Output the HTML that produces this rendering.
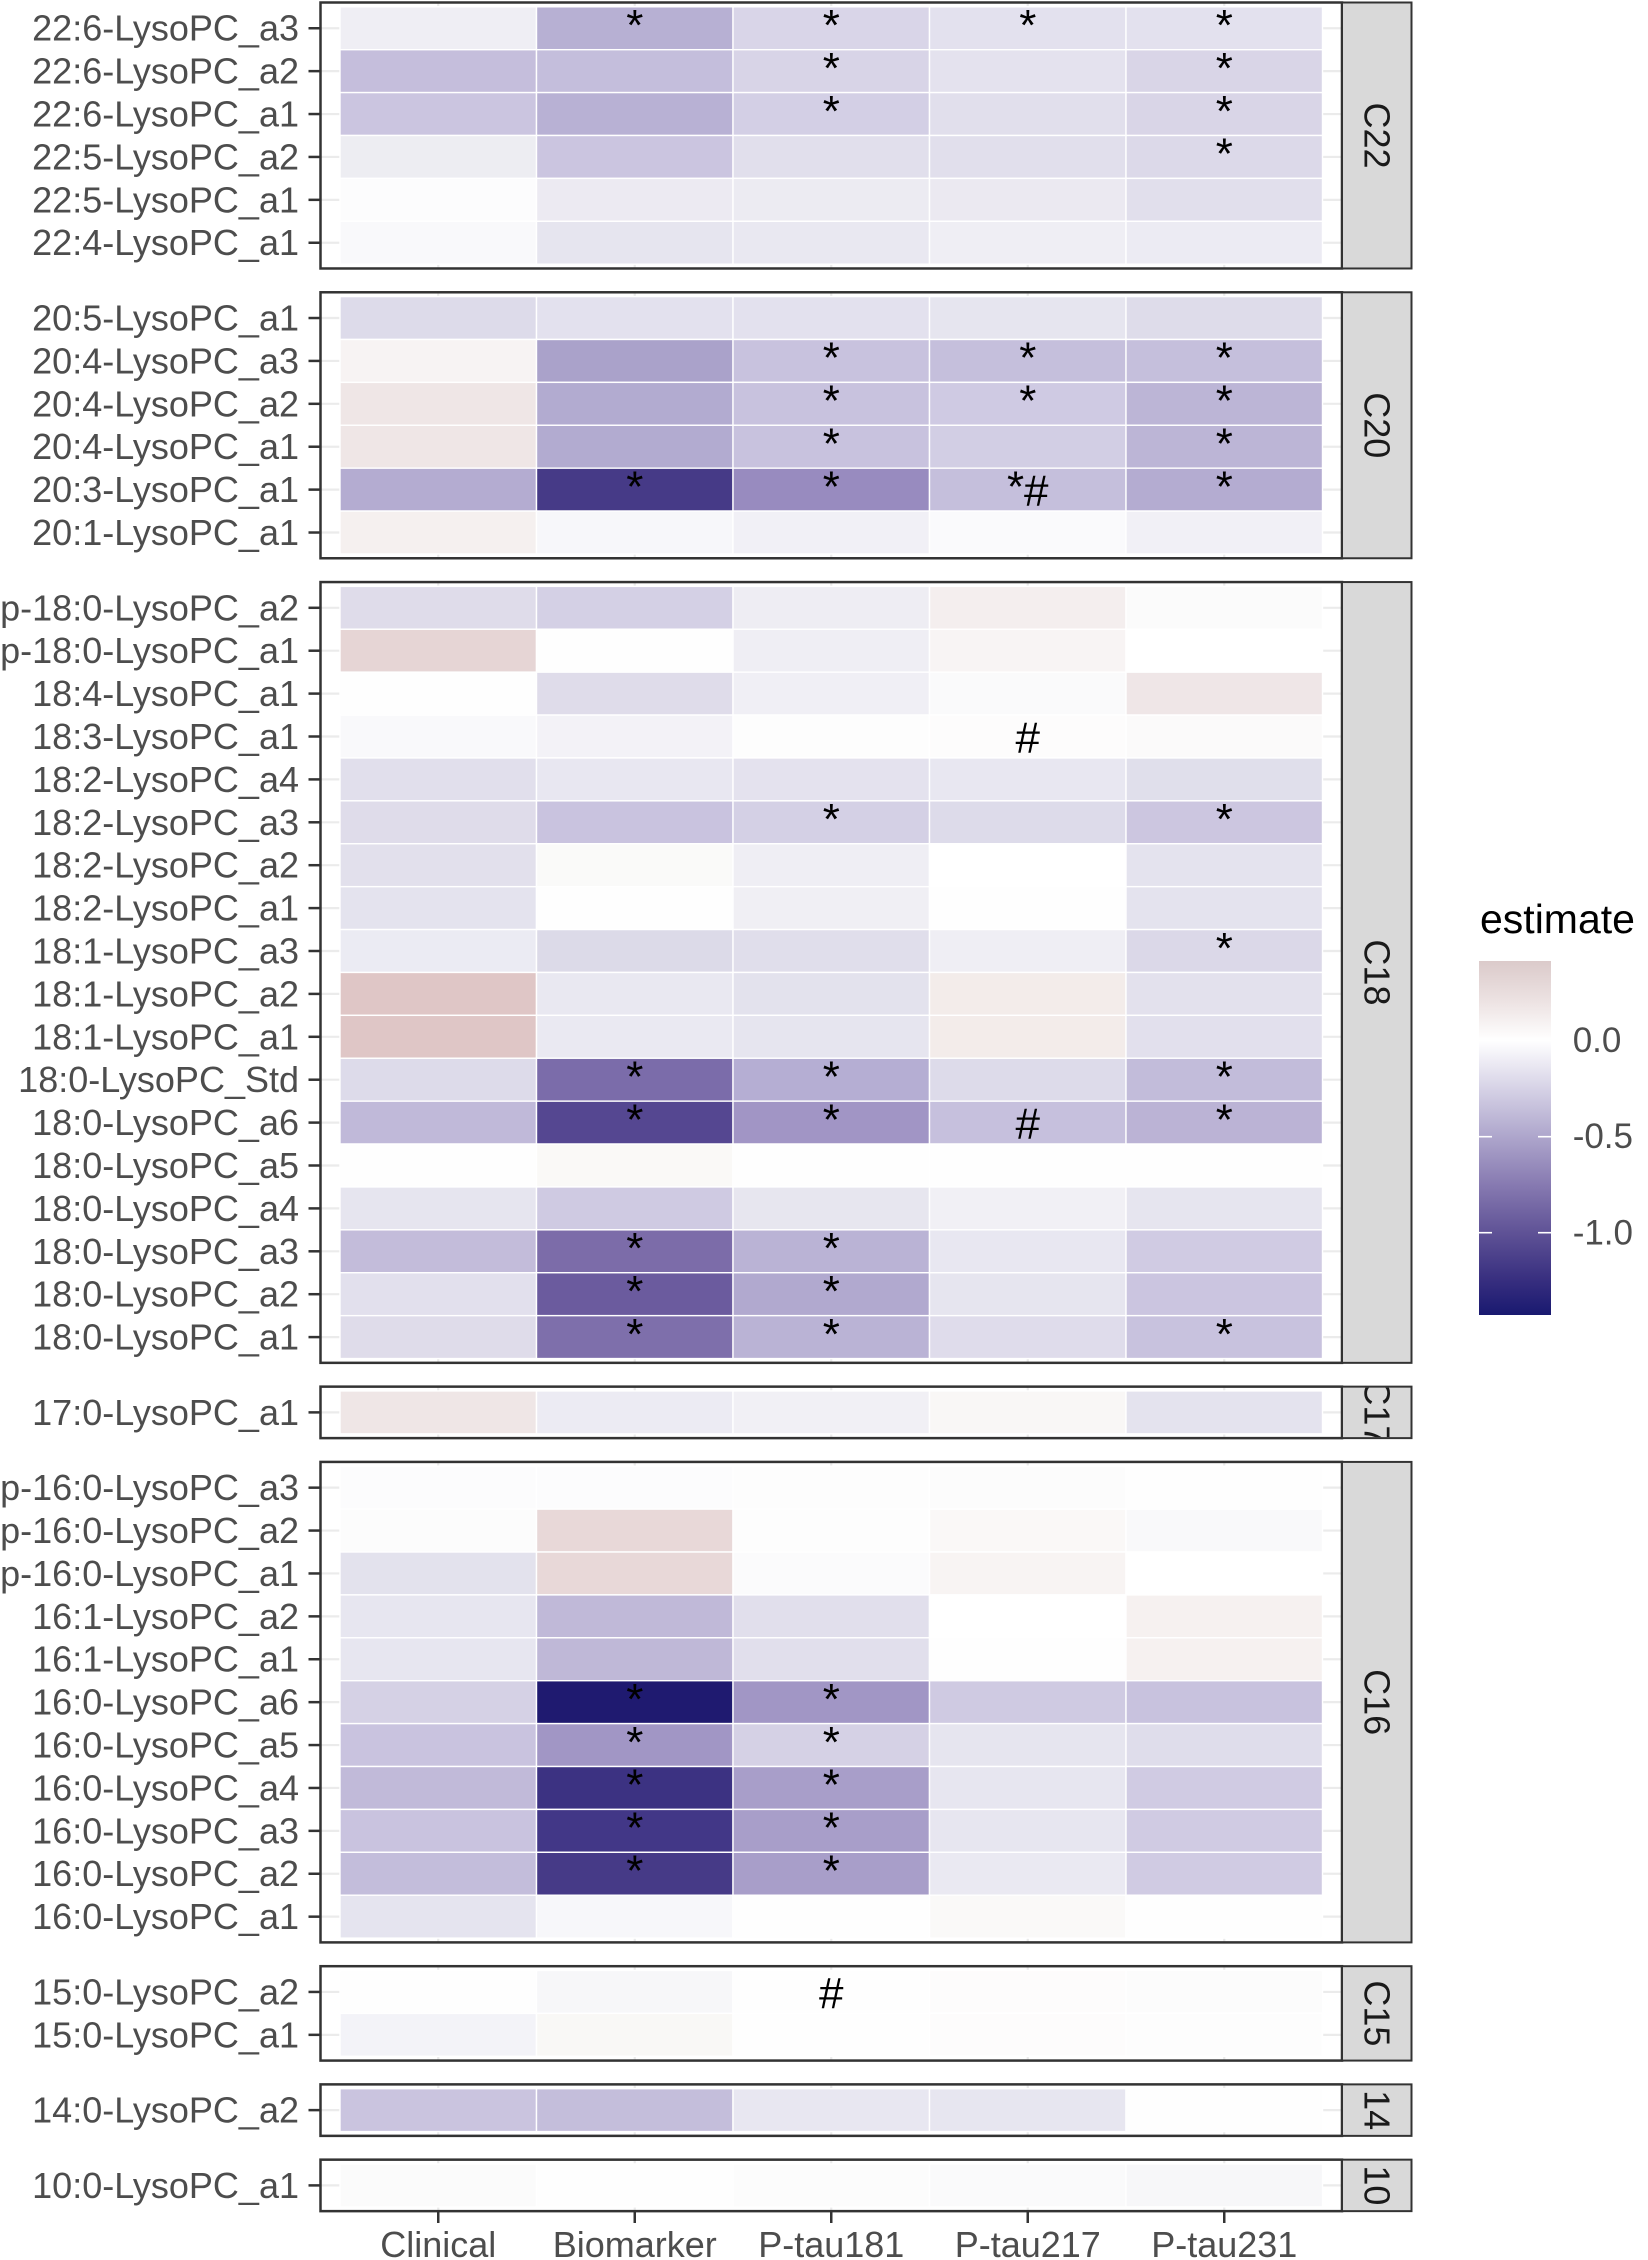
<!DOCTYPE html>
<html><head><meta charset="utf-8"><style>
html,body{margin:0;padding:0;background:#fff}
svg{display:block}
.g{stroke:#ebebeb;stroke-width:2.2}
.tk{stroke:#333;stroke-width:2.5}
.lb{font-family:"Liberation Sans",Arial,sans-serif;font-size:36px;fill:#4d4d4d;text-anchor:end}
.xl{font-family:"Liberation Sans",Arial,sans-serif;font-size:36px;fill:#4d4d4d;text-anchor:middle}
.an{font-family:"Liberation Sans",Arial,sans-serif;font-size:44px;fill:#000;text-anchor:middle}
.st{font-family:"Liberation Sans",Arial,sans-serif;font-size:36px;fill:#1a1a1a;text-anchor:middle}
.c{stroke:#fff;stroke-width:1.4}
.pb{fill:none;stroke:#333;stroke-width:2.5}
.sb{fill:#d9d9d9;stroke:#333;stroke-width:2}
</style></head><body>
<svg width="1648" height="2260" viewBox="0 0 1648 2260" xmlns="http://www.w3.org/2000/svg">
<defs>
<linearGradient id="lg" x1="0" y1="0" x2="0" y2="1">
<stop offset="0" stop-color="#dbcaca"/>
<stop offset="0.117" stop-color="#ede3e3"/>
<stop offset="0.225" stop-color="#ffffff"/>
<stop offset="0.361" stop-color="#d6d2e6"/>
<stop offset="0.496" stop-color="#aea6cc"/>
<stop offset="0.632" stop-color="#877ab1"/>
<stop offset="0.768" stop-color="#5f5296"/>
<stop offset="0.903" stop-color="#372e7f"/>
<stop offset="1" stop-color="#191970"/>
</linearGradient>
<clipPath id="cp4"><rect x="1343" y="1387.6" width="67.5" height="49.5"/></clipPath>
<clipPath id="cp7"><rect x="1343" y="2085.4" width="67.5" height="49.5"/></clipPath>
<clipPath id="cp8"><rect x="1343" y="2160.7" width="67.5" height="49.5"/></clipPath>
</defs>

<!-- ============ PANEL 1 C22 ============ -->
<rect x="320.5" y="2.5" width="1021.5" height="265.98" fill="#fff"/>
<g class="g"><line x1="438.25" x2="438.25" y1="2.5" y2="268.48"/><line x1="634.75" x2="634.75" y1="2.5" y2="268.48"/><line x1="831.25" x2="831.25" y1="2.5" y2="268.48"/><line x1="1027.75" x2="1027.75" y1="2.5" y2="268.48"/><line x1="1224.25" x2="1224.25" y1="2.5" y2="268.48"/></g>
<g transform="translate(0,6.79)"><line class="g" x1="320.5" x2="1342" y1="21.45" y2="21.45"/>
<rect class="c" x="340" width="196.5" height="42.9" fill="#efeef4"/><rect class="c" x="536.5" width="196.5" height="42.9" fill="#b7b0d3"/><rect class="c" x="733" width="196.5" height="42.9" fill="#d9d5e8"/><rect class="c" x="929.5" width="196.5" height="42.9" fill="#e3e1ee"/><rect class="c" x="1126" width="196.5" height="42.9" fill="#e3e1ee"/>
<text class="an" x="634.75" y="33.2">*</text><text class="an" x="831.25" y="33.2">*</text><text class="an" x="1027.75" y="33.2">*</text><text class="an" x="1224.25" y="33.2">*</text>
<line class="tk" x1="308.5" x2="320.5" y1="21.45" y2="21.45"/><text class="lb" x="299" y="33.95">22:6-LysoPC_a3</text></g>
<g transform="translate(0,49.69)"><line class="g" x1="320.5" x2="1342" y1="21.45" y2="21.45"/>
<rect class="c" x="340" width="196.5" height="42.9" fill="#c5bedc"/><rect class="c" x="536.5" width="196.5" height="42.9" fill="#c4bedc"/><rect class="c" x="733" width="196.5" height="42.9" fill="#d8d4e7"/><rect class="c" x="929.5" width="196.5" height="42.9" fill="#e4e2ee"/><rect class="c" x="1126" width="196.5" height="42.9" fill="#d9d5e7"/>
<text class="an" x="831.25" y="33.2">*</text><text class="an" x="1224.25" y="33.2">*</text>
<line class="tk" x1="308.5" x2="320.5" y1="21.45" y2="21.45"/><text class="lb" x="299" y="33.95">22:6-LysoPC_a2</text></g>
<g transform="translate(0,92.59)"><line class="g" x1="320.5" x2="1342" y1="21.45" y2="21.45"/>
<rect class="c" x="340" width="196.5" height="42.9" fill="#cbc5e0"/><rect class="c" x="536.5" width="196.5" height="42.9" fill="#b8b1d4"/><rect class="c" x="733" width="196.5" height="42.9" fill="#d3cfe5"/><rect class="c" x="929.5" width="196.5" height="42.9" fill="#e1dfec"/><rect class="c" x="1126" width="196.5" height="42.9" fill="#d9d5e7"/>
<text class="an" x="831.25" y="33.2">*</text><text class="an" x="1224.25" y="33.2">*</text>
<line class="tk" x1="308.5" x2="320.5" y1="21.45" y2="21.45"/><text class="lb" x="299" y="33.95">22:6-LysoPC_a1</text></g>
<g transform="translate(0,135.49)"><line class="g" x1="320.5" x2="1342" y1="21.45" y2="21.45"/>
<rect class="c" x="340" width="196.5" height="42.9" fill="#ededf2"/><rect class="c" x="536.5" width="196.5" height="42.9" fill="#cbc5e0"/><rect class="c" x="733" width="196.5" height="42.9" fill="#e1dfec"/><rect class="c" x="929.5" width="196.5" height="42.9" fill="#e1dfec"/><rect class="c" x="1126" width="196.5" height="42.9" fill="#dcd9e9"/>
<text class="an" x="1224.25" y="33.2">*</text>
<line class="tk" x1="308.5" x2="320.5" y1="21.45" y2="21.45"/><text class="lb" x="299" y="33.95">22:5-LysoPC_a2</text></g>
<g transform="translate(0,178.39)"><line class="g" x1="320.5" x2="1342" y1="21.45" y2="21.45"/>
<rect class="c" x="340" width="196.5" height="42.9" fill="#fcfcfd"/><rect class="c" x="536.5" width="196.5" height="42.9" fill="#eceaf2"/><rect class="c" x="733" width="196.5" height="42.9" fill="#ecebf2"/><rect class="c" x="929.5" width="196.5" height="42.9" fill="#ebe9f1"/><rect class="c" x="1126" width="196.5" height="42.9" fill="#e1dfec"/>
<line class="tk" x1="308.5" x2="320.5" y1="21.45" y2="21.45"/><text class="lb" x="299" y="33.95">22:5-LysoPC_a1</text></g>
<g transform="translate(0,221.29)"><line class="g" x1="320.5" x2="1342" y1="21.45" y2="21.45"/>
<rect class="c" x="340" width="196.5" height="42.9" fill="#f9f9fb"/><rect class="c" x="536.5" width="196.5" height="42.9" fill="#e6e5ef"/><rect class="c" x="733" width="196.5" height="42.9" fill="#e9e8f1"/><rect class="c" x="929.5" width="196.5" height="42.9" fill="#efeef4"/><rect class="c" x="1126" width="196.5" height="42.9" fill="#ecebf3"/>
<line class="tk" x1="308.5" x2="320.5" y1="21.45" y2="21.45"/><text class="lb" x="299" y="33.95">22:4-LysoPC_a1</text></g>
<rect class="pb" x="320.5" y="2.5" width="1021.5" height="265.98"/>
<rect class="sb" x="1342" y="2.5" width="69.5" height="265.98"/>
<text class="st" transform="translate(1376.75,135.49) rotate(90)" y="12.5">C22</text>

<!-- ============ PANEL 2 C20 ============ -->
<rect x="320.5" y="292.28" width="1021.5" height="265.98" fill="#fff"/>
<g class="g"><line x1="438.25" x2="438.25" y1="292.28" y2="558.26"/><line x1="634.75" x2="634.75" y1="292.28" y2="558.26"/><line x1="831.25" x2="831.25" y1="292.28" y2="558.26"/><line x1="1027.75" x2="1027.75" y1="292.28" y2="558.26"/><line x1="1224.25" x2="1224.25" y1="292.28" y2="558.26"/></g>
<g transform="translate(0,296.57)"><line class="g" x1="320.5" x2="1342" y1="21.45" y2="21.45"/>
<rect class="c" x="340" width="196.5" height="42.9" fill="#dddbea"/><rect class="c" x="536.5" width="196.5" height="42.9" fill="#e3e1ee"/><rect class="c" x="733" width="196.5" height="42.9" fill="#e3e1ee"/><rect class="c" x="929.5" width="196.5" height="42.9" fill="#e6e5ef"/><rect class="c" x="1126" width="196.5" height="42.9" fill="#dedcea"/>
<line class="tk" x1="308.5" x2="320.5" y1="21.45" y2="21.45"/><text class="lb" x="299" y="33.95">20:5-LysoPC_a1</text></g>
<g transform="translate(0,339.47)"><line class="g" x1="320.5" x2="1342" y1="21.45" y2="21.45"/>
<rect class="c" x="340" width="196.5" height="42.9" fill="#f7f3f3"/><rect class="c" x="536.5" width="196.5" height="42.9" fill="#aaa2ca"/><rect class="c" x="733" width="196.5" height="42.9" fill="#c8c2de"/><rect class="c" x="929.5" width="196.5" height="42.9" fill="#c5bfdc"/><rect class="c" x="1126" width="196.5" height="42.9" fill="#c5bfdc"/>
<text class="an" x="831.25" y="33.2">*</text><text class="an" x="1027.75" y="33.2">*</text><text class="an" x="1224.25" y="33.2">*</text>
<line class="tk" x1="308.5" x2="320.5" y1="21.45" y2="21.45"/><text class="lb" x="299" y="33.95">20:4-LysoPC_a3</text></g>
<g transform="translate(0,382.37)"><line class="g" x1="320.5" x2="1342" y1="21.45" y2="21.45"/>
<rect class="c" x="340" width="196.5" height="42.9" fill="#efe6e6"/><rect class="c" x="536.5" width="196.5" height="42.9" fill="#b2abd0"/><rect class="c" x="733" width="196.5" height="42.9" fill="#c8c2de"/><rect class="c" x="929.5" width="196.5" height="42.9" fill="#cfcae3"/><rect class="c" x="1126" width="196.5" height="42.9" fill="#bcb5d6"/>
<text class="an" x="831.25" y="33.2">*</text><text class="an" x="1027.75" y="33.2">*</text><text class="an" x="1224.25" y="33.2">*</text>
<line class="tk" x1="308.5" x2="320.5" y1="21.45" y2="21.45"/><text class="lb" x="299" y="33.95">20:4-LysoPC_a2</text></g>
<g transform="translate(0,425.27)"><line class="g" x1="320.5" x2="1342" y1="21.45" y2="21.45"/>
<rect class="c" x="340" width="196.5" height="42.9" fill="#efe6e6"/><rect class="c" x="536.5" width="196.5" height="42.9" fill="#b2abd0"/><rect class="c" x="733" width="196.5" height="42.9" fill="#c8c2de"/><rect class="c" x="929.5" width="196.5" height="42.9" fill="#d2cee4"/><rect class="c" x="1126" width="196.5" height="42.9" fill="#bcb5d6"/>
<text class="an" x="831.25" y="33.2">*</text><text class="an" x="1224.25" y="33.2">*</text>
<line class="tk" x1="308.5" x2="320.5" y1="21.45" y2="21.45"/><text class="lb" x="299" y="33.95">20:4-LysoPC_a1</text></g>
<g transform="translate(0,468.17)"><line class="g" x1="320.5" x2="1342" y1="21.45" y2="21.45"/>
<rect class="c" x="340" width="196.5" height="42.9" fill="#b4acd1"/><rect class="c" x="536.5" width="196.5" height="42.9" fill="#463a87"/><rect class="c" x="733" width="196.5" height="42.9" fill="#988bbf"/><rect class="c" x="929.5" width="196.5" height="42.9" fill="#c5bfdc"/><rect class="c" x="1126" width="196.5" height="42.9" fill="#b4acd1"/>
<text class="an" x="634.75" y="33.2">*</text><text class="an" x="831.25" y="33.2">*</text><text class="an" x="1015.5" y="33.2">*</text><text class="an" x="1036.3" y="37.45">#</text><text class="an" x="1224.25" y="33.2">*</text>
<line class="tk" x1="308.5" x2="320.5" y1="21.45" y2="21.45"/><text class="lb" x="299" y="33.95">20:3-LysoPC_a1</text></g>
<g transform="translate(0,511.07)"><line class="g" x1="320.5" x2="1342" y1="21.45" y2="21.45"/>
<rect class="c" x="340" width="196.5" height="42.9" fill="#f5f0ef"/><rect class="c" x="536.5" width="196.5" height="42.9" fill="#f7f7fa"/><rect class="c" x="733" width="196.5" height="42.9" fill="#f1f0f6"/><rect class="c" x="929.5" width="196.5" height="42.9" fill="#fafafc"/><rect class="c" x="1126" width="196.5" height="42.9" fill="#f1f0f6"/>
<line class="tk" x1="308.5" x2="320.5" y1="21.45" y2="21.45"/><text class="lb" x="299" y="33.95">20:1-LysoPC_a1</text></g>
<rect class="pb" x="320.5" y="292.28" width="1021.5" height="265.98"/>
<rect class="sb" x="1342" y="292.28" width="69.5" height="265.98"/>
<text class="st" transform="translate(1376.75,425.27) rotate(90)" y="12.5">C20</text>

<!-- ============ PANEL 3 C18 ============ -->
<rect x="320.5" y="582.06" width="1021.5" height="780.78" fill="#fff"/>
<g class="g"><line x1="438.25" x2="438.25" y1="582.06" y2="1362.84"/><line x1="634.75" x2="634.75" y1="582.06" y2="1362.84"/><line x1="831.25" x2="831.25" y1="582.06" y2="1362.84"/><line x1="1027.75" x2="1027.75" y1="582.06" y2="1362.84"/><line x1="1224.25" x2="1224.25" y1="582.06" y2="1362.84"/></g>
<g transform="translate(0,586.35)"><line class="g" x1="320.5" x2="1342" y1="21.45" y2="21.45"/>
<rect class="c" x="340" width="196.5" height="42.9" fill="#dfdcea"/><rect class="c" x="536.5" width="196.5" height="42.9" fill="#d4d0e5"/><rect class="c" x="733" width="196.5" height="42.9" fill="#eeedf3"/><rect class="c" x="929.5" width="196.5" height="42.9" fill="#f4eeee"/><rect class="c" x="1126" width="196.5" height="42.9" fill="#fbfbfb"/>
<line class="tk" x1="308.5" x2="320.5" y1="21.45" y2="21.45"/><text class="lb" x="299" y="33.95">p-18:0-LysoPC_a2</text></g>
<g transform="translate(0,629.25)"><line class="g" x1="320.5" x2="1342" y1="21.45" y2="21.45"/>
<rect class="c" x="340" width="196.5" height="42.9" fill="#e6d5d5"/><rect class="c" x="536.5" width="196.5" height="42.9" fill="#fefefe"/><rect class="c" x="733" width="196.5" height="42.9" fill="#efeef4"/><rect class="c" x="929.5" width="196.5" height="42.9" fill="#f8f4f4"/><rect class="c" x="1126" width="196.5" height="42.9" fill="#ffffff"/>
<line class="tk" x1="308.5" x2="320.5" y1="21.45" y2="21.45"/><text class="lb" x="299" y="33.95">p-18:0-LysoPC_a1</text></g>
<g transform="translate(0,672.15)"><line class="g" x1="320.5" x2="1342" y1="21.45" y2="21.45"/>
<rect class="c" x="340" width="196.5" height="42.9" fill="#fefefe"/><rect class="c" x="536.5" width="196.5" height="42.9" fill="#dfdcea"/><rect class="c" x="733" width="196.5" height="42.9" fill="#f0eff5"/><rect class="c" x="929.5" width="196.5" height="42.9" fill="#fafafb"/><rect class="c" x="1126" width="196.5" height="42.9" fill="#efe6e7"/>
<line class="tk" x1="308.5" x2="320.5" y1="21.45" y2="21.45"/><text class="lb" x="299" y="33.95">18:4-LysoPC_a1</text></g>
<g transform="translate(0,715.05)"><line class="g" x1="320.5" x2="1342" y1="21.45" y2="21.45"/>
<rect class="c" x="340" width="196.5" height="42.9" fill="#f9f9fb"/><rect class="c" x="536.5" width="196.5" height="42.9" fill="#f3f2f7"/><rect class="c" x="733" width="196.5" height="42.9" fill="#fdfdfd"/><rect class="c" x="929.5" width="196.5" height="42.9" fill="#fdfcfc"/><rect class="c" x="1126" width="196.5" height="42.9" fill="#fbfafa"/>
<text class="an" x="1027.75" y="37.45">#</text>
<line class="tk" x1="308.5" x2="320.5" y1="21.45" y2="21.45"/><text class="lb" x="299" y="33.95">18:3-LysoPC_a1</text></g>
<g transform="translate(0,757.95)"><line class="g" x1="320.5" x2="1342" y1="21.45" y2="21.45"/>
<rect class="c" x="340" width="196.5" height="42.9" fill="#e1dfec"/><rect class="c" x="536.5" width="196.5" height="42.9" fill="#e8e7f1"/><rect class="c" x="733" width="196.5" height="42.9" fill="#e4e2ee"/><rect class="c" x="929.5" width="196.5" height="42.9" fill="#e8e7f1"/><rect class="c" x="1126" width="196.5" height="42.9" fill="#e0dfeb"/>
<line class="tk" x1="308.5" x2="320.5" y1="21.45" y2="21.45"/><text class="lb" x="299" y="33.95">18:2-LysoPC_a4</text></g>
<g transform="translate(0,800.85)"><line class="g" x1="320.5" x2="1342" y1="21.45" y2="21.45"/>
<rect class="c" x="340" width="196.5" height="42.9" fill="#dfdcea"/><rect class="c" x="536.5" width="196.5" height="42.9" fill="#c9c3df"/><rect class="c" x="733" width="196.5" height="42.9" fill="#d4d0e5"/><rect class="c" x="929.5" width="196.5" height="42.9" fill="#dddbea"/><rect class="c" x="1126" width="196.5" height="42.9" fill="#ccc6e0"/>
<text class="an" x="831.25" y="33.2">*</text><text class="an" x="1224.25" y="33.2">*</text>
<line class="tk" x1="308.5" x2="320.5" y1="21.45" y2="21.45"/><text class="lb" x="299" y="33.95">18:2-LysoPC_a3</text></g>
<g transform="translate(0,843.75)"><line class="g" x1="320.5" x2="1342" y1="21.45" y2="21.45"/>
<rect class="c" x="340" width="196.5" height="42.9" fill="#e2e0ec"/><rect class="c" x="536.5" width="196.5" height="42.9" fill="#fafaf9"/><rect class="c" x="733" width="196.5" height="42.9" fill="#efeef4"/><rect class="c" x="929.5" width="196.5" height="42.9" fill="#ffffff"/><rect class="c" x="1126" width="196.5" height="42.9" fill="#e4e3ee"/>
<line class="tk" x1="308.5" x2="320.5" y1="21.45" y2="21.45"/><text class="lb" x="299" y="33.95">18:2-LysoPC_a2</text></g>
<g transform="translate(0,886.65)"><line class="g" x1="320.5" x2="1342" y1="21.45" y2="21.45"/>
<rect class="c" x="340" width="196.5" height="42.9" fill="#e4e3ee"/><rect class="c" x="536.5" width="196.5" height="42.9" fill="#fefefe"/><rect class="c" x="733" width="196.5" height="42.9" fill="#f0eff4"/><rect class="c" x="929.5" width="196.5" height="42.9" fill="#fefefe"/><rect class="c" x="1126" width="196.5" height="42.9" fill="#e4e3ee"/>
<line class="tk" x1="308.5" x2="320.5" y1="21.45" y2="21.45"/><text class="lb" x="299" y="33.95">18:2-LysoPC_a1</text></g>
<g transform="translate(0,929.55)"><line class="g" x1="320.5" x2="1342" y1="21.45" y2="21.45"/>
<rect class="c" x="340" width="196.5" height="42.9" fill="#ebebf3"/><rect class="c" x="536.5" width="196.5" height="42.9" fill="#dcdae8"/><rect class="c" x="733" width="196.5" height="42.9" fill="#e0deeb"/><rect class="c" x="929.5" width="196.5" height="42.9" fill="#efeef4"/><rect class="c" x="1126" width="196.5" height="42.9" fill="#dbd8e8"/>
<text class="an" x="1224.25" y="33.2">*</text>
<line class="tk" x1="308.5" x2="320.5" y1="21.45" y2="21.45"/><text class="lb" x="299" y="33.95">18:1-LysoPC_a3</text></g>
<g transform="translate(0,972.45)"><line class="g" x1="320.5" x2="1342" y1="21.45" y2="21.45"/>
<rect class="c" x="340" width="196.5" height="42.9" fill="#dfc6c6"/><rect class="c" x="536.5" width="196.5" height="42.9" fill="#e9e8f1"/><rect class="c" x="733" width="196.5" height="42.9" fill="#e3e2ed"/><rect class="c" x="929.5" width="196.5" height="42.9" fill="#f3ecea"/><rect class="c" x="1126" width="196.5" height="42.9" fill="#e3e1ed"/>
<line class="tk" x1="308.5" x2="320.5" y1="21.45" y2="21.45"/><text class="lb" x="299" y="33.95">18:1-LysoPC_a2</text></g>
<g transform="translate(0,1015.35)"><line class="g" x1="320.5" x2="1342" y1="21.45" y2="21.45"/>
<rect class="c" x="340" width="196.5" height="42.9" fill="#dfc6c6"/><rect class="c" x="536.5" width="196.5" height="42.9" fill="#eae9f2"/><rect class="c" x="733" width="196.5" height="42.9" fill="#e6e5ef"/><rect class="c" x="929.5" width="196.5" height="42.9" fill="#f3ecea"/><rect class="c" x="1126" width="196.5" height="42.9" fill="#e2e0ed"/>
<line class="tk" x1="308.5" x2="320.5" y1="21.45" y2="21.45"/><text class="lb" x="299" y="33.95">18:1-LysoPC_a1</text></g>
<g transform="translate(0,1058.25)"><line class="g" x1="320.5" x2="1342" y1="21.45" y2="21.45"/>
<rect class="c" x="340" width="196.5" height="42.9" fill="#dddbea"/><rect class="c" x="536.5" width="196.5" height="42.9" fill="#7b6caa"/><rect class="c" x="733" width="196.5" height="42.9" fill="#b5aed3"/><rect class="c" x="929.5" width="196.5" height="42.9" fill="#dddbea"/><rect class="c" x="1126" width="196.5" height="42.9" fill="#c2bcda"/>
<text class="an" x="634.75" y="33.2">*</text><text class="an" x="831.25" y="33.2">*</text><text class="an" x="1224.25" y="33.2">*</text>
<line class="tk" x1="308.5" x2="320.5" y1="21.45" y2="21.45"/><text class="lb" x="299" y="33.95">18:0-LysoPC_Std</text></g>
<g transform="translate(0,1101.15)"><line class="g" x1="320.5" x2="1342" y1="21.45" y2="21.45"/>
<rect class="c" x="340" width="196.5" height="42.9" fill="#c0b9d9"/><rect class="c" x="536.5" width="196.5" height="42.9" fill="#554791"/><rect class="c" x="733" width="196.5" height="42.9" fill="#a195c5"/><rect class="c" x="929.5" width="196.5" height="42.9" fill="#c6c0dd"/><rect class="c" x="1126" width="196.5" height="42.9" fill="#bbb3d5"/>
<text class="an" x="634.75" y="33.2">*</text><text class="an" x="831.25" y="33.2">*</text><text class="an" x="1027.75" y="37.45">#</text><text class="an" x="1224.25" y="33.2">*</text>
<line class="tk" x1="308.5" x2="320.5" y1="21.45" y2="21.45"/><text class="lb" x="299" y="33.95">18:0-LysoPC_a6</text></g>
<g transform="translate(0,1144.05)"><line class="g" x1="320.5" x2="1342" y1="21.45" y2="21.45"/>
<rect class="c" x="340" width="196.5" height="42.9" fill="#fefefe"/><rect class="c" x="536.5" width="196.5" height="42.9" fill="#faf9f7"/><rect class="c" x="733" width="196.5" height="42.9" fill="#fefefe"/><rect class="c" x="929.5" width="196.5" height="42.9" fill="#fefefe"/><rect class="c" x="1126" width="196.5" height="42.9" fill="#fefefe"/>
<line class="tk" x1="308.5" x2="320.5" y1="21.45" y2="21.45"/><text class="lb" x="299" y="33.95">18:0-LysoPC_a5</text></g>
<g transform="translate(0,1186.95)"><line class="g" x1="320.5" x2="1342" y1="21.45" y2="21.45"/>
<rect class="c" x="340" width="196.5" height="42.9" fill="#e6e5ef"/><rect class="c" x="536.5" width="196.5" height="42.9" fill="#cfcae2"/><rect class="c" x="733" width="196.5" height="42.9" fill="#e7e6ef"/><rect class="c" x="929.5" width="196.5" height="42.9" fill="#f1f0f5"/><rect class="c" x="1126" width="196.5" height="42.9" fill="#e6e5ef"/>
<line class="tk" x1="308.5" x2="320.5" y1="21.45" y2="21.45"/><text class="lb" x="299" y="33.95">18:0-LysoPC_a4</text></g>
<g transform="translate(0,1229.85)"><line class="g" x1="320.5" x2="1342" y1="21.45" y2="21.45"/>
<rect class="c" x="340" width="196.5" height="42.9" fill="#c3bcda"/><rect class="c" x="536.5" width="196.5" height="42.9" fill="#7c6ca9"/><rect class="c" x="733" width="196.5" height="42.9" fill="#bab3d5"/><rect class="c" x="929.5" width="196.5" height="42.9" fill="#e8e7f1"/><rect class="c" x="1126" width="196.5" height="42.9" fill="#d0cbe3"/>
<text class="an" x="634.75" y="33.2">*</text><text class="an" x="831.25" y="33.2">*</text>
<line class="tk" x1="308.5" x2="320.5" y1="21.45" y2="21.45"/><text class="lb" x="299" y="33.95">18:0-LysoPC_a3</text></g>
<g transform="translate(0,1272.75)"><line class="g" x1="320.5" x2="1342" y1="21.45" y2="21.45"/>
<rect class="c" x="340" width="196.5" height="42.9" fill="#e2e0ed"/><rect class="c" x="536.5" width="196.5" height="42.9" fill="#6b5b9e"/><rect class="c" x="733" width="196.5" height="42.9" fill="#b1a9cf"/><rect class="c" x="929.5" width="196.5" height="42.9" fill="#e6e5ef"/><rect class="c" x="1126" width="196.5" height="42.9" fill="#cbc5e0"/>
<text class="an" x="634.75" y="33.2">*</text><text class="an" x="831.25" y="33.2">*</text>
<line class="tk" x1="308.5" x2="320.5" y1="21.45" y2="21.45"/><text class="lb" x="299" y="33.95">18:0-LysoPC_a2</text></g>
<g transform="translate(0,1315.65)"><line class="g" x1="320.5" x2="1342" y1="21.45" y2="21.45"/>
<rect class="c" x="340" width="196.5" height="42.9" fill="#dfdcea"/><rect class="c" x="536.5" width="196.5" height="42.9" fill="#7e6fab"/><rect class="c" x="733" width="196.5" height="42.9" fill="#bab3d5"/><rect class="c" x="929.5" width="196.5" height="42.9" fill="#dfdceb"/><rect class="c" x="1126" width="196.5" height="42.9" fill="#c8c2de"/>
<text class="an" x="634.75" y="33.2">*</text><text class="an" x="831.25" y="33.2">*</text><text class="an" x="1224.25" y="33.2">*</text>
<line class="tk" x1="308.5" x2="320.5" y1="21.45" y2="21.45"/><text class="lb" x="299" y="33.95">18:0-LysoPC_a1</text></g>
<rect class="pb" x="320.5" y="582.06" width="1021.5" height="780.78"/>
<rect class="sb" x="1342" y="582.06" width="69.5" height="780.78"/>
<text class="st" transform="translate(1376.75,972.45) rotate(90)" y="12.5">C18</text>

<!-- ============ PANEL 4 C17 ============ -->
<rect x="320.5" y="1386.64" width="1021.5" height="51.48" fill="#fff"/>
<g class="g"><line x1="438.25" x2="438.25" y1="1386.64" y2="1438.12"/><line x1="634.75" x2="634.75" y1="1386.64" y2="1438.12"/><line x1="831.25" x2="831.25" y1="1386.64" y2="1438.12"/><line x1="1027.75" x2="1027.75" y1="1386.64" y2="1438.12"/><line x1="1224.25" x2="1224.25" y1="1386.64" y2="1438.12"/></g>
<g transform="translate(0,1390.93)"><line class="g" x1="320.5" x2="1342" y1="21.45" y2="21.45"/>
<rect class="c" x="340" width="196.5" height="42.9" fill="#efe6e6"/><rect class="c" x="536.5" width="196.5" height="42.9" fill="#ecebf3"/><rect class="c" x="733" width="196.5" height="42.9" fill="#f1f0f5"/><rect class="c" x="929.5" width="196.5" height="42.9" fill="#f9f7f6"/><rect class="c" x="1126" width="196.5" height="42.9" fill="#e4e3ee"/>
<line class="tk" x1="308.5" x2="320.5" y1="21.45" y2="21.45"/><text class="lb" x="299" y="33.95">17:0-LysoPC_a1</text></g>
<rect class="pb" x="320.5" y="1386.64" width="1021.5" height="51.48"/>
<rect class="sb" x="1342" y="1386.64" width="69.5" height="51.48"/>
<g clip-path="url(#cp4)"><text class="st" transform="translate(1376.75,1412.38) rotate(90)" y="12.5">C17</text></g>

<!-- ============ PANEL 5 C16 ============ -->
<rect x="320.5" y="1461.92" width="1021.5" height="480.48" fill="#fff"/>
<g class="g"><line x1="438.25" x2="438.25" y1="1461.92" y2="1942.4"/><line x1="634.75" x2="634.75" y1="1461.92" y2="1942.4"/><line x1="831.25" x2="831.25" y1="1461.92" y2="1942.4"/><line x1="1027.75" x2="1027.75" y1="1461.92" y2="1942.4"/><line x1="1224.25" x2="1224.25" y1="1461.92" y2="1942.4"/></g>
<g transform="translate(0,1466.21)"><line class="g" x1="320.5" x2="1342" y1="21.45" y2="21.45"/>
<rect class="c" x="340" width="196.5" height="42.9" fill="#fcfcfd"/><rect class="c" x="536.5" width="196.5" height="42.9" fill="#fcfcfd"/><rect class="c" x="733" width="196.5" height="42.9" fill="#fdfdfd"/><rect class="c" x="929.5" width="196.5" height="42.9" fill="#fcfcfc"/><rect class="c" x="1126" width="196.5" height="42.9" fill="#fefefe"/>
<line class="tk" x1="308.5" x2="320.5" y1="21.45" y2="21.45"/><text class="lb" x="299" y="33.95">p-16:0-LysoPC_a3</text></g>
<g transform="translate(0,1509.11)"><line class="g" x1="320.5" x2="1342" y1="21.45" y2="21.45"/>
<rect class="c" x="340" width="196.5" height="42.9" fill="#fcfcfc"/><rect class="c" x="536.5" width="196.5" height="42.9" fill="#e8d8d8"/><rect class="c" x="733" width="196.5" height="42.9" fill="#fdfdfd"/><rect class="c" x="929.5" width="196.5" height="42.9" fill="#faf8f7"/><rect class="c" x="1126" width="196.5" height="42.9" fill="#f9f9fa"/>
<line class="tk" x1="308.5" x2="320.5" y1="21.45" y2="21.45"/><text class="lb" x="299" y="33.95">p-16:0-LysoPC_a2</text></g>
<g transform="translate(0,1552.01)"><line class="g" x1="320.5" x2="1342" y1="21.45" y2="21.45"/>
<rect class="c" x="340" width="196.5" height="42.9" fill="#e3e2ed"/><rect class="c" x="536.5" width="196.5" height="42.9" fill="#e8d8d8"/><rect class="c" x="733" width="196.5" height="42.9" fill="#fbfbfc"/><rect class="c" x="929.5" width="196.5" height="42.9" fill="#f8f4f3"/><rect class="c" x="1126" width="196.5" height="42.9" fill="#ffffff"/>
<line class="tk" x1="308.5" x2="320.5" y1="21.45" y2="21.45"/><text class="lb" x="299" y="33.95">p-16:0-LysoPC_a1</text></g>
<g transform="translate(0,1594.91)"><line class="g" x1="320.5" x2="1342" y1="21.45" y2="21.45"/>
<rect class="c" x="340" width="196.5" height="42.9" fill="#e7e6f0"/><rect class="c" x="536.5" width="196.5" height="42.9" fill="#c0b9d8"/><rect class="c" x="733" width="196.5" height="42.9" fill="#e1dfec"/><rect class="c" x="929.5" width="196.5" height="42.9" fill="#ffffff"/><rect class="c" x="1126" width="196.5" height="42.9" fill="#f6f1f0"/>
<line class="tk" x1="308.5" x2="320.5" y1="21.45" y2="21.45"/><text class="lb" x="299" y="33.95">16:1-LysoPC_a2</text></g>
<g transform="translate(0,1637.81)"><line class="g" x1="320.5" x2="1342" y1="21.45" y2="21.45"/>
<rect class="c" x="340" width="196.5" height="42.9" fill="#e7e6f0"/><rect class="c" x="536.5" width="196.5" height="42.9" fill="#bfb8d7"/><rect class="c" x="733" width="196.5" height="42.9" fill="#e1dfec"/><rect class="c" x="929.5" width="196.5" height="42.9" fill="#fefefe"/><rect class="c" x="1126" width="196.5" height="42.9" fill="#f6f1f0"/>
<line class="tk" x1="308.5" x2="320.5" y1="21.45" y2="21.45"/><text class="lb" x="299" y="33.95">16:1-LysoPC_a1</text></g>
<g transform="translate(0,1680.71)"><line class="g" x1="320.5" x2="1342" y1="21.45" y2="21.45"/>
<rect class="c" x="340" width="196.5" height="42.9" fill="#d5d1e5"/><rect class="c" x="536.5" width="196.5" height="42.9" fill="#1f1a70"/><rect class="c" x="733" width="196.5" height="42.9" fill="#a196c5"/><rect class="c" x="929.5" width="196.5" height="42.9" fill="#cfcae2"/><rect class="c" x="1126" width="196.5" height="42.9" fill="#c8c2de"/>
<text class="an" x="634.75" y="33.2">*</text><text class="an" x="831.25" y="33.2">*</text>
<line class="tk" x1="308.5" x2="320.5" y1="21.45" y2="21.45"/><text class="lb" x="299" y="33.95">16:0-LysoPC_a6</text></g>
<g transform="translate(0,1723.61)"><line class="g" x1="320.5" x2="1342" y1="21.45" y2="21.45"/>
<rect class="c" x="340" width="196.5" height="42.9" fill="#c9c3df"/><rect class="c" x="536.5" width="196.5" height="42.9" fill="#a196c5"/><rect class="c" x="733" width="196.5" height="42.9" fill="#d5d1e5"/><rect class="c" x="929.5" width="196.5" height="42.9" fill="#e6e5ef"/><rect class="c" x="1126" width="196.5" height="42.9" fill="#dfddeb"/>
<text class="an" x="634.75" y="33.2">*</text><text class="an" x="831.25" y="33.2">*</text>
<line class="tk" x1="308.5" x2="320.5" y1="21.45" y2="21.45"/><text class="lb" x="299" y="33.95">16:0-LysoPC_a5</text></g>
<g transform="translate(0,1766.51)"><line class="g" x1="320.5" x2="1342" y1="21.45" y2="21.45"/>
<rect class="c" x="340" width="196.5" height="42.9" fill="#c1bad9"/><rect class="c" x="536.5" width="196.5" height="42.9" fill="#3c3282"/><rect class="c" x="733" width="196.5" height="42.9" fill="#a89ec9"/><rect class="c" x="929.5" width="196.5" height="42.9" fill="#e7e6f0"/><rect class="c" x="1126" width="196.5" height="42.9" fill="#d0cbe3"/>
<text class="an" x="634.75" y="33.2">*</text><text class="an" x="831.25" y="33.2">*</text>
<line class="tk" x1="308.5" x2="320.5" y1="21.45" y2="21.45"/><text class="lb" x="299" y="33.95">16:0-LysoPC_a4</text></g>
<g transform="translate(0,1809.41)"><line class="g" x1="320.5" x2="1342" y1="21.45" y2="21.45"/>
<rect class="c" x="340" width="196.5" height="42.9" fill="#c9c3df"/><rect class="c" x="536.5" width="196.5" height="42.9" fill="#423787"/><rect class="c" x="733" width="196.5" height="42.9" fill="#a89ec9"/><rect class="c" x="929.5" width="196.5" height="42.9" fill="#e7e6f0"/><rect class="c" x="1126" width="196.5" height="42.9" fill="#d0cbe3"/>
<text class="an" x="634.75" y="33.2">*</text><text class="an" x="831.25" y="33.2">*</text>
<line class="tk" x1="308.5" x2="320.5" y1="21.45" y2="21.45"/><text class="lb" x="299" y="33.95">16:0-LysoPC_a3</text></g>
<g transform="translate(0,1852.31)"><line class="g" x1="320.5" x2="1342" y1="21.45" y2="21.45"/>
<rect class="c" x="340" width="196.5" height="42.9" fill="#c3bddb"/><rect class="c" x="536.5" width="196.5" height="42.9" fill="#463a87"/><rect class="c" x="733" width="196.5" height="42.9" fill="#a89ec9"/><rect class="c" x="929.5" width="196.5" height="42.9" fill="#eae9f2"/><rect class="c" x="1126" width="196.5" height="42.9" fill="#d0cbe3"/>
<text class="an" x="634.75" y="33.2">*</text><text class="an" x="831.25" y="33.2">*</text>
<line class="tk" x1="308.5" x2="320.5" y1="21.45" y2="21.45"/><text class="lb" x="299" y="33.95">16:0-LysoPC_a2</text></g>
<g transform="translate(0,1895.21)"><line class="g" x1="320.5" x2="1342" y1="21.45" y2="21.45"/>
<rect class="c" x="340" width="196.5" height="42.9" fill="#e5e4ef"/><rect class="c" x="536.5" width="196.5" height="42.9" fill="#f7f7fa"/><rect class="c" x="733" width="196.5" height="42.9" fill="#fefefe"/><rect class="c" x="929.5" width="196.5" height="42.9" fill="#faf9f8"/><rect class="c" x="1126" width="196.5" height="42.9" fill="#fefefe"/>
<line class="tk" x1="308.5" x2="320.5" y1="21.45" y2="21.45"/><text class="lb" x="299" y="33.95">16:0-LysoPC_a1</text></g>
<rect class="pb" x="320.5" y="1461.92" width="1021.5" height="480.48"/>
<rect class="sb" x="1342" y="1461.92" width="69.5" height="480.48"/>
<text class="st" transform="translate(1376.75,1702.16) rotate(90)" y="12.5">C16</text>

<!-- ============ PANEL 6 C15 ============ -->
<rect x="320.5" y="1966.2" width="1021.5" height="94.38" fill="#fff"/>
<g class="g"><line x1="438.25" x2="438.25" y1="1966.2" y2="2060.58"/><line x1="634.75" x2="634.75" y1="1966.2" y2="2060.58"/><line x1="831.25" x2="831.25" y1="1966.2" y2="2060.58"/><line x1="1027.75" x2="1027.75" y1="1966.2" y2="2060.58"/><line x1="1224.25" x2="1224.25" y1="1966.2" y2="2060.58"/></g>
<g transform="translate(0,1970.49)"><line class="g" x1="320.5" x2="1342" y1="21.45" y2="21.45"/>
<rect class="c" x="340" width="196.5" height="42.9" fill="#fefefe"/><rect class="c" x="536.5" width="196.5" height="42.9" fill="#f7f7f9"/><rect class="c" x="733" width="196.5" height="42.9" fill="#fefefe"/><rect class="c" x="929.5" width="196.5" height="42.9" fill="#fdfcfc"/><rect class="c" x="1126" width="196.5" height="42.9" fill="#fcfcfc"/>
<text class="an" x="831.25" y="37.45">#</text>
<line class="tk" x1="308.5" x2="320.5" y1="21.45" y2="21.45"/><text class="lb" x="299" y="33.95">15:0-LysoPC_a2</text></g>
<g transform="translate(0,2013.39)"><line class="g" x1="320.5" x2="1342" y1="21.45" y2="21.45"/>
<rect class="c" x="340" width="196.5" height="42.9" fill="#f3f3f8"/><rect class="c" x="536.5" width="196.5" height="42.9" fill="#f9f8f6"/><rect class="c" x="733" width="196.5" height="42.9" fill="#fefefe"/><rect class="c" x="929.5" width="196.5" height="42.9" fill="#fdfcfc"/><rect class="c" x="1126" width="196.5" height="42.9" fill="#fdfdfd"/>
<line class="tk" x1="308.5" x2="320.5" y1="21.45" y2="21.45"/><text class="lb" x="299" y="33.95">15:0-LysoPC_a1</text></g>
<rect class="pb" x="320.5" y="1966.2" width="1021.5" height="94.38"/>
<rect class="sb" x="1342" y="1966.2" width="69.5" height="94.38"/>
<text class="st" transform="translate(1376.75,2013.39) rotate(90)" y="12.5">C15</text>

<!-- ============ PANEL 7 14 ============ -->
<rect x="320.5" y="2084.38" width="1021.5" height="51.48" fill="#fff"/>
<g class="g"><line x1="438.25" x2="438.25" y1="2084.38" y2="2135.86"/><line x1="634.75" x2="634.75" y1="2084.38" y2="2135.86"/><line x1="831.25" x2="831.25" y1="2084.38" y2="2135.86"/><line x1="1027.75" x2="1027.75" y1="2084.38" y2="2135.86"/><line x1="1224.25" x2="1224.25" y1="2084.38" y2="2135.86"/></g>
<g transform="translate(0,2088.67)"><line class="g" x1="320.5" x2="1342" y1="21.45" y2="21.45"/>
<rect class="c" x="340" width="196.5" height="42.9" fill="#cac4df"/><rect class="c" x="536.5" width="196.5" height="42.9" fill="#c4bedb"/><rect class="c" x="733" width="196.5" height="42.9" fill="#e8e7f1"/><rect class="c" x="929.5" width="196.5" height="42.9" fill="#e7e6f0"/><rect class="c" x="1126" width="196.5" height="42.9" fill="#fefefe"/>
<line class="tk" x1="308.5" x2="320.5" y1="21.45" y2="21.45"/><text class="lb" x="299" y="33.95">14:0-LysoPC_a2</text></g>
<rect class="pb" x="320.5" y="2084.38" width="1021.5" height="51.48"/>
<rect class="sb" x="1342" y="2084.38" width="69.5" height="51.48"/>
<g clip-path="url(#cp7)"><text class="st" transform="translate(1376.75,2110.12) rotate(90)" y="12.5">14</text></g>

<!-- ============ PANEL 8 10 ============ -->
<rect x="320.5" y="2159.66" width="1021.5" height="51.48" fill="#fff"/>
<g class="g"><line x1="438.25" x2="438.25" y1="2159.66" y2="2211.14"/><line x1="634.75" x2="634.75" y1="2159.66" y2="2211.14"/><line x1="831.25" x2="831.25" y1="2159.66" y2="2211.14"/><line x1="1027.75" x2="1027.75" y1="2159.66" y2="2211.14"/><line x1="1224.25" x2="1224.25" y1="2159.66" y2="2211.14"/></g>
<g transform="translate(0,2163.95)"><line class="g" x1="320.5" x2="1342" y1="21.45" y2="21.45"/>
<rect class="c" x="340" width="196.5" height="42.9" fill="#fbfbfb"/><rect class="c" x="536.5" width="196.5" height="42.9" fill="#fefefe"/><rect class="c" x="733" width="196.5" height="42.9" fill="#fcfcfc"/><rect class="c" x="929.5" width="196.5" height="42.9" fill="#fafafb"/><rect class="c" x="1126" width="196.5" height="42.9" fill="#f7f7f9"/>
<line class="tk" x1="308.5" x2="320.5" y1="21.45" y2="21.45"/><text class="lb" x="299" y="33.95">10:0-LysoPC_a1</text></g>
<rect class="pb" x="320.5" y="2159.66" width="1021.5" height="51.48"/>
<rect class="sb" x="1342" y="2159.66" width="69.5" height="51.48"/>
<g clip-path="url(#cp8)"><text class="st" transform="translate(1376.75,2185.4) rotate(90)" y="12.5">10</text></g>

<!-- ============ X AXIS ============ -->
<g class="tk"><line x1="438.25" x2="438.25" y1="2211.1" y2="2223"/><line x1="634.75" x2="634.75" y1="2211.1" y2="2223"/><line x1="831.25" x2="831.25" y1="2211.1" y2="2223"/><line x1="1027.75" x2="1027.75" y1="2211.1" y2="2223"/><line x1="1224.25" x2="1224.25" y1="2211.1" y2="2223"/></g>
<text class="xl" x="438.25" y="2257">Clinical</text>
<text class="xl" x="634.75" y="2257">Biomarker</text>
<text class="xl" x="831.25" y="2257">P-tau181</text>
<text class="xl" x="1027.75" y="2257">P-tau217</text>
<text class="xl" x="1224.25" y="2257">P-tau231</text>

<!-- ============ LEGEND ============ -->
<text x="1480" y="933" font-family="Liberation Sans, Arial, sans-serif" font-size="41" fill="#000">estimate</text>
<rect x="1479" y="961" width="72" height="354" fill="url(#lg)"/>
<g stroke="#fff" stroke-width="1.6">
<line x1="1479" x2="1492" y1="1136.7" y2="1136.7"/><line x1="1538" x2="1551" y1="1136.7" y2="1136.7"/>
<line x1="1479" x2="1492" y1="1232.7" y2="1232.7"/><line x1="1538" x2="1551" y1="1232.7" y2="1232.7"/>
</g>
<g font-family="Liberation Sans, Arial, sans-serif" font-size="35" fill="#4d4d4d">
<text x="1572.7" y="1052">0.0</text>
<text x="1572.7" y="1148">-0.5</text>
<text x="1572.7" y="1244.5">-1.0</text>
</g>
</svg>
</body></html>
